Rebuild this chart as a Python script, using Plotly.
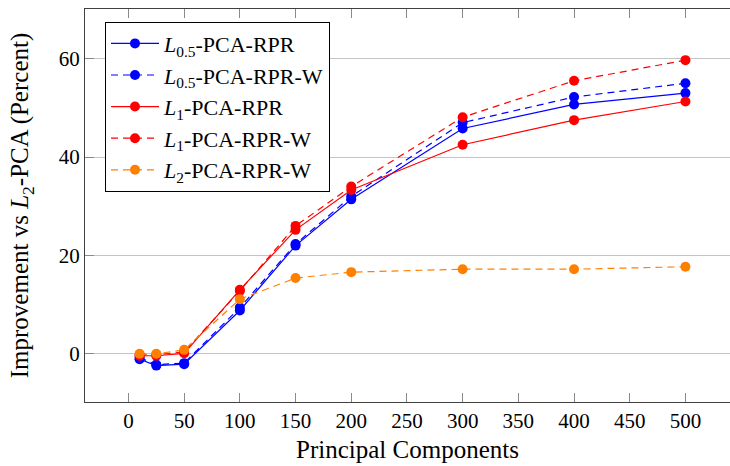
import plotly.graph_objects as go

# Number of principal components
components = [10, 25, 50, 100, 150, 200, 300, 400, 500]

# Improvement over L2-PCA, in percent
l05_rpr = [-1.1, -2.4, -2.1, 8.8, 22.0, 31.4, 45.8, 50.7, 53.0]
l05_rpr_w = [-0.8, -2.2, -1.9, 9.4, 22.3, 32.0, 47.0, 52.2, 55.0]
l1_rpr = [-0.4, -0.4, 0.1, 13.0, 25.2, 33.3, 42.5, 47.5, 51.3]
l1_rpr_w = [-0.2, -0.2, 0.4, 12.8, 26.0, 34.0, 48.1, 55.5, 59.7]
l2_rpr_w = [0.0, 0.0, 0.8, 11.1, 15.4, 16.6, 17.2, 17.2, 17.7]

series = [
    ("<i>L</i><sub>0.5</sub>-PCA-RPR", l05_rpr, "#0000FF", "solid"),
    ("<i>L</i><sub>0.5</sub>-PCA-RPR-W", l05_rpr_w, "#0000FF", "7px,5px"),
    ("<i>L</i><sub>1</sub>-PCA-RPR", l1_rpr, "#FF0000", "solid"),
    ("<i>L</i><sub>1</sub>-PCA-RPR-W", l1_rpr_w, "#FF0000", "7px,5px"),
    ("<i>L</i><sub>2</sub>-PCA-RPR-W", l2_rpr_w, "#FF8000", "7px,5px"),
]

FONT = "'Liberation Serif', 'Times New Roman', Times, 'DejaVu Serif', serif"

fig = go.Figure()
for name, vals, color, dash in series:
    fig.add_trace(go.Scatter(
        x=components, y=vals, name=name, mode="lines+markers",
        line=dict(color=color, width=1.2, dash=dash),
        marker=dict(color=color, size=10, line=dict(width=0)),
    ))

fig.update_layout(
    width=730, height=466,
    margin=dict(l=85, r=0, t=9, b=64),
    paper_bgcolor="white", plot_bgcolor="white",
    font=dict(family=FONT, size=21, color="black"),
    showlegend=True,
    legend=dict(
        x=0.031, y=0.968, xanchor="left", yanchor="top",
        bgcolor="white", bordercolor="black", borderwidth=1,
        font=dict(family=FONT, size=22),
        tracegroupgap=0, itemwidth=48,
    ),
)

fig.update_xaxes(
    range=[-39, 540],
    tickmode="array", tickvals=list(range(0, 501, 50)),
    ticks="inside", ticklen=9, tickcolor="#8a8a8a", tickwidth=1,
    showline=True, linecolor="#404040", linewidth=1.3, mirror="ticks",
    showgrid=False, zeroline=False,
    title=dict(text="Principal Components", standoff=8),
    tickfont=dict(family=FONT, size=21),
)

fig.update_yaxes(
    range=[-9.8, 70.1],
    tickmode="array", tickvals=[0, 20, 40, 60],
    ticks="inside", ticklen=9, tickcolor="#8a8a8a", tickwidth=1,
    showline=True, linecolor="#404040", linewidth=1.3, mirror=False,
    showgrid=True, gridcolor="#c4c4c4", gridwidth=1.2,
    zeroline=False,
    title=dict(text="Improvement vs <i>L</i><sub>2</sub>-PCA (Percent)", standoff=22),
    tickfont=dict(family=FONT, size=21),
)

fig.write_html("out.html")
